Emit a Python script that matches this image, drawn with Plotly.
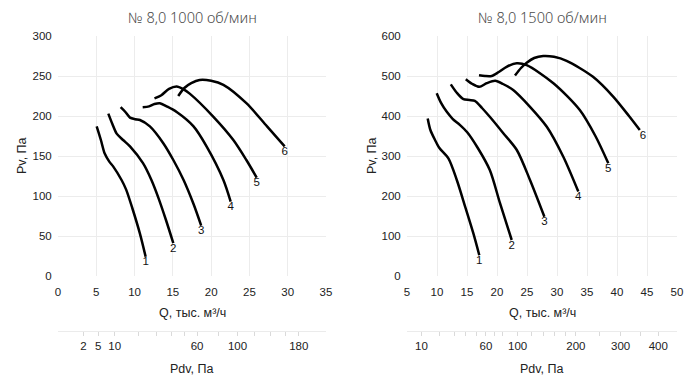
import plotly.graph_objects as go

# ---------------- data ----------------
curve_names = ["1", "2", "3", "4", "5", "6"]

# Left chart: № 8,0 1000 об/мин  (Q, тыс. м³/ч ; Pv, Па)
q1000_1 = [5.05, 5.6, 6.1, 6.7, 7.2, 8.3, 8.9, 9.7, 10.7, 11.45]
p1000_1 = [187, 170, 153, 143, 137, 120, 108, 85, 53, 24]
q1000_2 = [6.57, 7.1, 7.66, 8.5, 9.4, 11.1, 12.2, 13.1, 14.1, 15.06]
p1000_2 = [203, 190, 178, 170, 162, 141, 120, 98, 70, 41]
q1000_3 = [8.18, 8.8, 9.4, 10.1, 10.7, 12.0, 13.75, 15.06, 16.4, 17.7, 18.7]
p1000_3 = [211, 205, 198, 196, 195, 187, 166, 145, 120, 90, 63]
q1000_4 = [11.06, 11.9, 12.6, 13.3, 14.2, 15.5, 17.7, 19.4, 21.6, 22.55]
p1000_4 = [211, 212, 215, 216, 212, 205, 187, 162, 120, 93]
q1000_5 = [12.6, 13.5, 14.5, 15.5, 16.3, 17.2, 20.3, 22.9, 24.6, 25.95]
p1000_5 = [222, 226, 234, 237, 234, 228, 199, 170, 145, 123]
q1000_6 = [15.7, 16.5, 17.4, 18.5, 20.0, 21.6, 24.6, 27.3, 29.6]
p1000_6 = [225, 235, 241, 245, 244, 239, 216, 187, 162]

# Right chart: № 8,0 1500 об/мин
q1500_1 = [8.45, 8.9, 9.67, 10.4, 11.9, 13.3, 14.7, 16.05, 17.05]
p1500_1 = [394, 365, 340, 320, 294, 240, 173, 107, 52]
q1500_2 = [9.95, 10.7, 11.6, 12.6, 13.8, 15.0, 16.8, 18.8, 20.5, 22.45]
p1500_2 = [457, 432, 411, 393, 378, 360, 320, 265, 182, 90]
q1500_3 = [12.3, 13.3, 14.4, 15.4, 16.3, 17.5, 18.8, 21.05, 23.3, 25.5, 27.9]
p1500_3 = [479, 458, 442, 440, 438, 420, 398, 357, 315, 240, 148]
q1500_4 = [14.8, 15.9, 17.05, 18.3, 19.7, 21.0, 22.7, 25.5, 28.3, 31.05, 33.55]
p1500_4 = [492, 480, 473, 482, 488, 480, 465, 423, 373, 298, 211]
q1500_5 = [17.0, 18.0, 19.1, 20.3, 21.6, 23.3, 24.95, 29.4, 33.8, 36.4, 38.55]
p1500_5 = [502, 500, 500, 510, 523, 532, 527, 482, 415, 350, 282]
q1500_6 = [23.0, 24.0, 24.95, 26.2, 27.7, 29.5, 31.6, 36.0, 39.4, 42.0, 43.8]
p1500_6 = [501, 520, 533, 545, 550, 548, 538, 498, 448, 400, 365]

# Dynamic pressure scale (Pdv, Па) – tick marks and labels
pdv_ticks_1000 = [2, 5, 10, 20, 30, 40, 50, 60, 80, 100, 120, 140, 160, 180]
pdv_labels_1000 = [2, 5, 10, 60, 100, 180]
pdv_ticks_1500 = [10, 20, 30, 40, 50, 60, 70, 80, 100, 120, 140, 160, 180, 200, 250, 300, 350, 400]
pdv_labels_1500 = [10, 60, 100, 200, 300, 400]
pdv_k = 0.182  # Pdv = k * Q^2  (Q in тыс. м³/ч)

titles = ["№ 8,0 1000 об/мин", "№ 8,0 1500 об/мин"]

# ---------------- figure ----------------
W, H = 700, 382
MT, MB = 36, 51
PH = H - MT - MB


def px_x(px):
    return px / W


def px_y(py):
    return (H - MB - py) / PH


fig = go.Figure()

left = list(zip([q1000_1, q1000_2, q1000_3, q1000_4, q1000_5, q1000_6],
                [p1000_1, p1000_2, p1000_3, p1000_4, p1000_5, p1000_6]))
right = list(zip([q1500_1, q1500_2, q1500_3, q1500_4, q1500_5, q1500_6],
                 [p1500_1, p1500_2, p1500_3, p1500_4, p1500_5, p1500_6]))

for (curves, xa, ya) in [(left, "x", "y"), (right, "x2", "y2")]:
    for name, (q, p) in zip(curve_names, curves):
        fig.add_trace(go.Scatter(x=q, y=p, mode="lines", xaxis=xa, yaxis=ya,
                                 line=dict(color="black", width=2.5, shape="spline", smoothing=0.8),
                                 showlegend=False, hoverinfo="skip"))
        fig.add_trace(go.Scatter(x=[q[-1]], y=[p[-1]], mode="text", text=[name],
                                 textposition="bottom right" if (xa == "x2" and name == "6") else "bottom center",
                                 textfont=dict(family="Liberation Sans, Arial", size=11.5, color="#111111"),
                                 xaxis=xa, yaxis=ya, showlegend=False, hoverinfo="skip"))

# invisible traces to carry the Pdv axes
fig.add_trace(go.Scatter(x=[1], y=[0], xaxis="x3", yaxis="y", mode="markers",
                         marker=dict(opacity=0), showlegend=False, hoverinfo="skip"))
fig.add_trace(go.Scatter(x=[10], y=[0], xaxis="x4", yaxis="y2", mode="markers",
                         marker=dict(opacity=0), showlegend=False, hoverinfo="skip"))

tickfont = dict(family="Liberation Sans, Arial", size=11.5, color="#222")
grid = "#ececec"
ydom = [px_y(276), 1.0]
xdomL = [px_x(58), px_x(326)]
xdomR = [px_x(407), px_x(677)]


def pdv_axis(ticks, labels, rng, overlay):
    vals = [(t / pdv_k) ** 0.5 for t in ticks]
    text = [str(t) if t in labels else "" for t in ticks]
    return dict(overlaying=overlay, anchor="free", position=0, side="bottom",
                range=rng, tickmode="array", tickvals=vals, ticktext=text,
                showgrid=False, zeroline=False, showline=True, linecolor="#ebebeb", linewidth=1,
                ticks="outside", ticklen=4, tickcolor="#dadada", tickfont=tickfont,
                automargin=False, fixedrange=True)


fig.update_layout(
    width=W, height=H,
    margin=dict(l=0, r=0, t=MT, b=MB),
    paper_bgcolor="white", plot_bgcolor="white",
    hovermode=False,
    xaxis=dict(domain=xdomL, range=[0, 35], dtick=5, tick0=0, anchor="y",
               showgrid=True, gridcolor=grid, zeroline=False, showline=False,
               ticks="outside", ticklen=5, tickcolor="rgba(0,0,0,0)", tickfont=tickfont, automargin=False),
    yaxis=dict(domain=ydom, range=[0, 300], dtick=50, anchor="x",
               showgrid=True, gridcolor=grid, zeroline=False, showline=False,
               ticks="outside", ticklen=3, tickcolor="rgba(0,0,0,0)", tickfont=tickfont, automargin=False),
    xaxis2=dict(domain=xdomR, range=[5, 50], dtick=5, tick0=5, anchor="y2",
                showgrid=True, gridcolor=grid, zeroline=False, showline=False,
                ticks="outside", ticklen=5, tickcolor="rgba(0,0,0,0)", tickfont=tickfont, automargin=False),
    yaxis2=dict(domain=ydom, range=[0, 600], dtick=100, anchor="x2",
                showgrid=True, gridcolor=grid, zeroline=False, showline=False,
                ticks="outside", ticklen=3, tickcolor="rgba(0,0,0,0)", tickfont=tickfont, automargin=False),
    xaxis3=pdv_axis(pdv_ticks_1000, pdv_labels_1000, [0, 35], "x"),
    xaxis4=pdv_axis(pdv_ticks_1500, pdv_labels_1500, [5, 50], "x2"),
)

titlefont = dict(family="Noto Sans, Open Sans", size=14.5, color="#4a4a4a", weight=300)
labfont = dict(family="Liberation Sans, Arial", size=12.5, color="#222")
ann = []
for cx, t in zip([192, 542], titles):
    ann.append(dict(text=t, x=px_x(cx), y=px_y(17), xref="paper", yref="paper",
                    showarrow=False, xanchor="center", yanchor="middle", font=titlefont))
    ann.append(dict(text="Q, тыс. м³/ч", x=px_x(cx), y=px_y(313), xref="paper", yref="paper",
                    showarrow=False, xanchor="center", yanchor="middle", font=labfont))
    ann.append(dict(text="Pdv, Па", x=px_x(cx), y=px_y(369), xref="paper", yref="paper",
                    showarrow=False, xanchor="center", yanchor="middle", font=labfont))
for yx in [22, 372]:
    ann.append(dict(text="Pv, Па", x=px_x(yx), y=px_y(156), xref="paper", yref="paper",
                    showarrow=False, xanchor="center", yanchor="middle", textangle=-90, font=labfont))
fig.update_layout(annotations=ann)

fig.write_html("out.html", config={"displayModeBar": False, "staticPlot": True},
               post_script="document.body.style.margin='0';document.body.style.overflow='hidden';")
